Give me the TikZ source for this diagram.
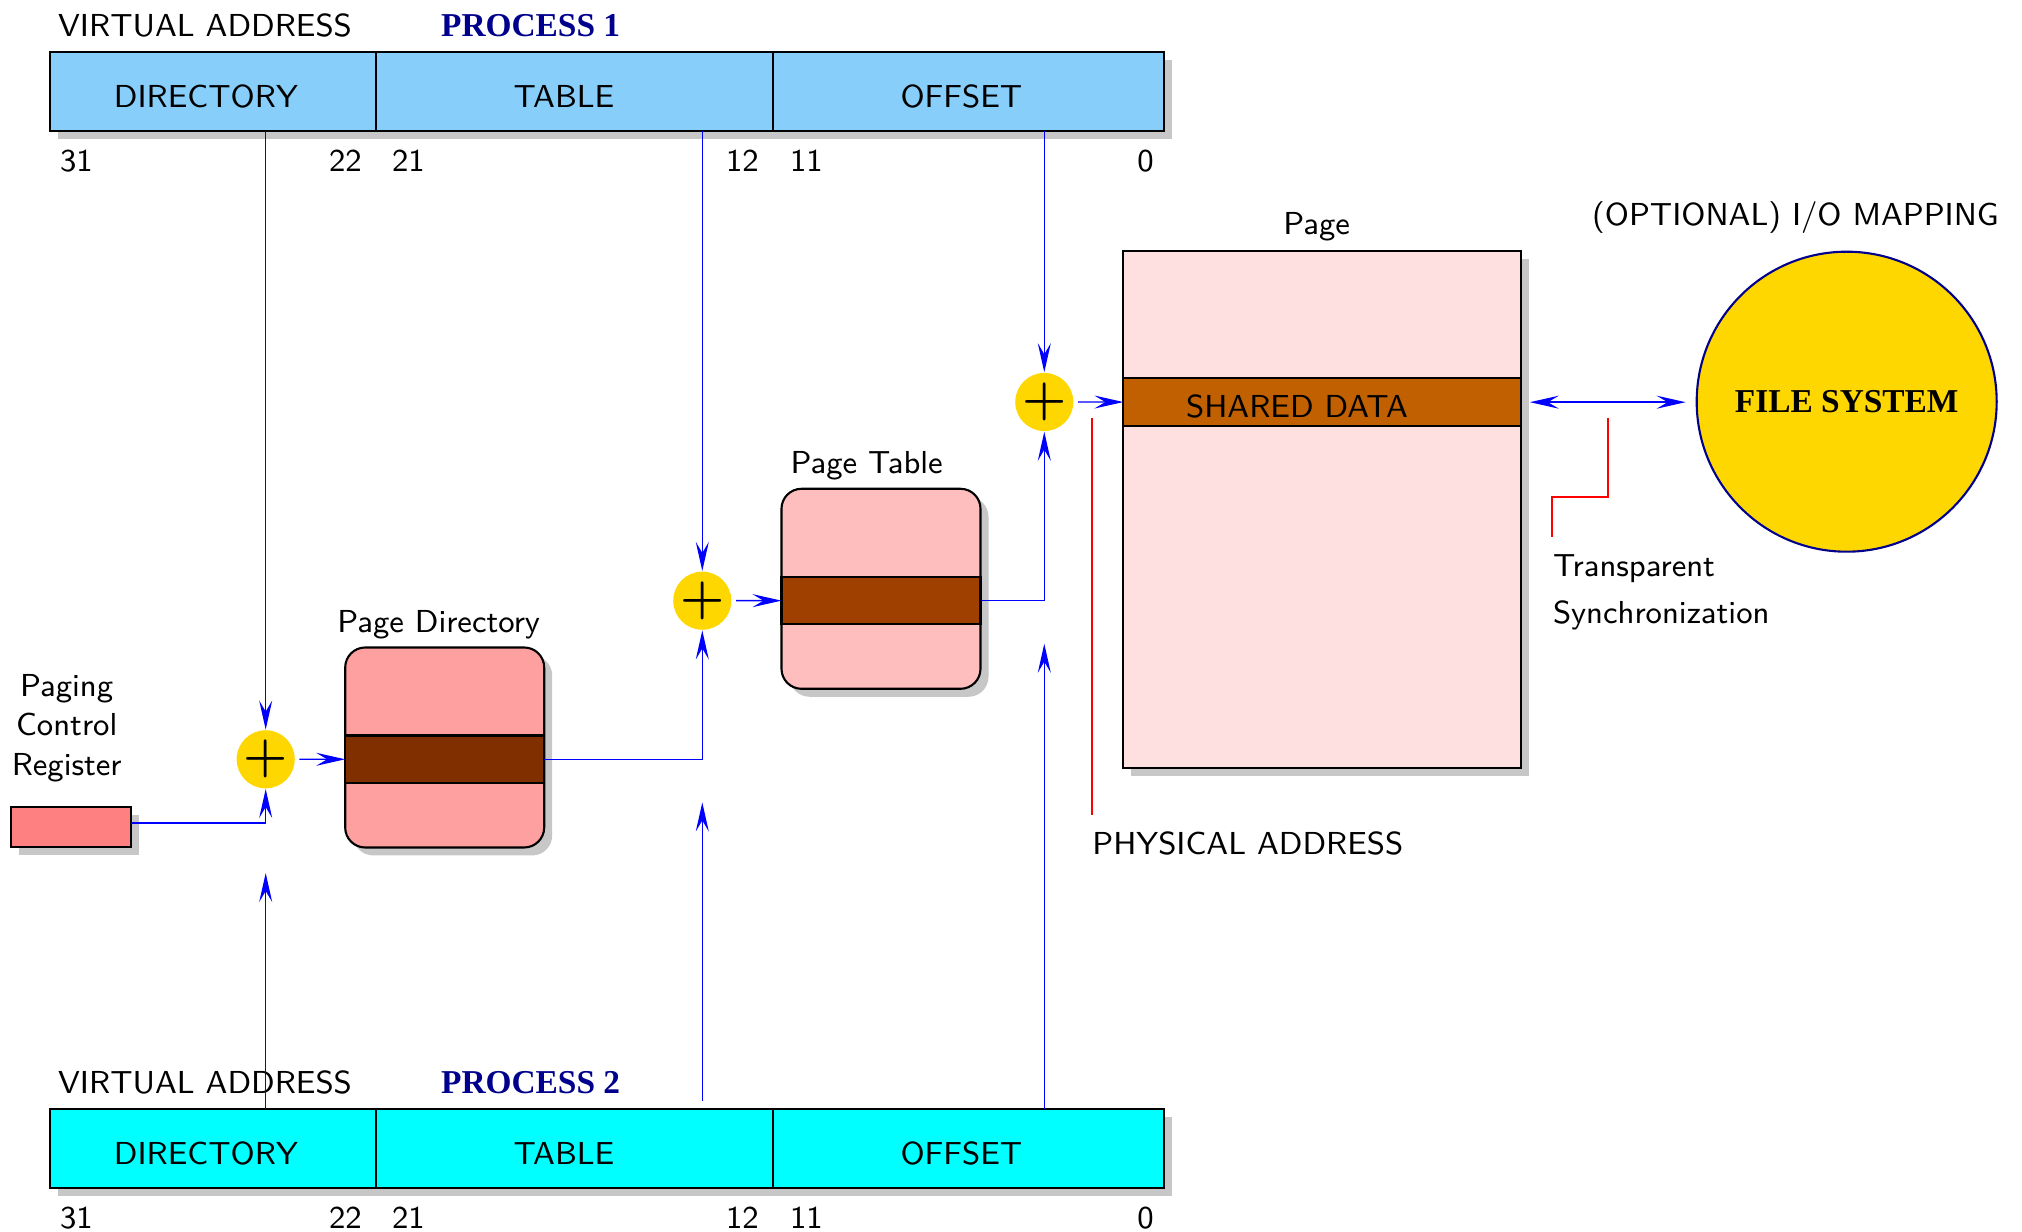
\documentclass[tikz,border=0pt]{standalone}
\usepackage{fontspec}
\newfontfamily\headfont{Liberation Serif}
\usetikzlibrary{arrows.meta,positioning,shadows,calc}

\definecolor{skyfield}{RGB}{135,206,250}
\definecolor{cyanfield}{RGB}{0,255,255}
\definecolor{regfill}{RGB}{255,128,128}
\definecolor{pdfill}{RGB}{255,160,160}
\definecolor{ptfill}{RGB}{255,190,190}
\definecolor{pagefill}{RGB}{255,224,224}
\definecolor{pdband}{RGB}{128,48,0}
\definecolor{ptband}{RGB}{160,64,0}
\definecolor{pageband}{RGB}{192,96,0}
\definecolor{gold}{RGB}{255,215,0}
\definecolor{navy}{RGB}{0,0,140}

\begin{document}
\begin{tikzpicture}[
    font=\sffamily\fontsize{9.05}{11.2}\selectfont,
    shadowed/.style={drop shadow={shadow xshift=0.8mm, shadow yshift=-0.8mm, fill=black!22, opacity=1}},
    field/.style={rectangle, draw, semithick, outer sep=0pt, inner sep=0pt, minimum height=7.9mm, text height=3.2mm, shadowed},
    bit/.style={inner sep=0pt},
    proctitle/.style={anchor=base west, inner sep=0pt, text=navy, font=\headfont\bfseries\fontsize{9.5}{11}\selectfont},
    lookup/.style={rectangle, draw, semithick, rounded corners=2mm, minimum width=1.99cm, minimum height=2cm, outer sep=0pt, shadowed},
    band/.style={rectangle, draw, semithick, minimum height=4.75mm, outer sep=0pt},
    adder/.style={circle, fill=gold, minimum size=5.6mm, inner sep=0pt, font=\Large\boldmath},
    boxlabel/.style={anchor=base, inner sep=0pt},
    flow/.style={-{Stealth[length=2.9mm, width=1.3mm, inset=1.1mm]}, blue, thin},
    leader/.style={red, semithick}
]
\useasboundingbox (0,0) rectangle (20.22,12.32);

% virtual address, process 1
\node[field, fill=skyfield, minimum width=3.26cm, anchor=north west] (dir1) at (0.504,11.80) {DIRECTORY\kern1.5mm};
\node[field, fill=skyfield, minimum width=3.97cm, right=0pt of dir1] (tab1) {TABLE\kern2.2mm};
\node[field, fill=skyfield, minimum width=3.91cm, right=0pt of tab1] (off1) {OFFSET\kern1.5mm};
\node[anchor=base west, inner sep=0pt] (va1) at ([shift={(0.07,0.153)}]dir1.north west) {VIRTUAL ADDRESS};
\node[proctitle] (proc1) at ([shift={(3.9,0.153)}]dir1.north west) {PROCESS 1};
\node[bit, anchor=base west] at ([shift={(0.09,-0.407)}]dir1.south west) {31};
\node[bit, anchor=base east] at ([shift={(-0.14,-0.407)}]dir1.south east) {22};
\node[bit, anchor=base west] at ([shift={(0.15,-0.407)}]tab1.south west) {21};
\node[bit, anchor=base east] at ([shift={(-0.14,-0.407)}]tab1.south east) {12};
\node[bit, anchor=base west] at ([shift={(0.16,-0.407)}]off1.south west) {11};
\node[bit, anchor=base east] at ([shift={(-0.1,-0.407)}]off1.south east) {0};

% virtual address, process 2
\node[field, fill=cyanfield, minimum width=3.26cm, anchor=north west] (dir2) at (0.504,1.23) {DIRECTORY\kern1.5mm};
\node[field, fill=cyanfield, minimum width=3.97cm, right=0pt of dir2] (tab2) {TABLE\kern2.2mm};
\node[field, fill=cyanfield, minimum width=3.91cm, right=0pt of tab2] (off2) {OFFSET\kern1.5mm};
\node[anchor=base west, inner sep=0pt] (va2) at ([shift={(0.07,0.153)}]dir2.north west) {VIRTUAL ADDRESS};
\node[proctitle] (proc2) at ([shift={(3.9,0.153)}]dir2.north west) {PROCESS 2};
\node[bit, anchor=base west] at ([shift={(0.09,-0.407)}]dir2.south west) {31};
\node[bit, anchor=base east] at ([shift={(-0.14,-0.407)}]dir2.south east) {22};
\node[bit, anchor=base west] at ([shift={(0.15,-0.407)}]tab2.south west) {21};
\node[bit, anchor=base east] at ([shift={(-0.14,-0.407)}]tab2.south east) {12};
\node[bit, anchor=base west] at ([shift={(0.16,-0.407)}]off2.south west) {11};
\node[bit, anchor=base east] at ([shift={(-0.1,-0.407)}]off2.south east) {0};

% adders
\node[adder] (add1) at (2.657,4.727) {$+$};
\node[adder] (add2) at (7.023,6.313) {$+$};
\node[adder] (add3) at (10.443,8.300) {$+$};

% paging control register
\node[rectangle, draw, semithick, fill=regfill, minimum width=1.2cm, minimum height=4mm, outer sep=0pt, shadowed] (reg) at (0.71,4.049) {};
\node[align=center] (reglabel) at (0.667,5.04) {Paging\\Control\\Register};

% page directory
\node[lookup, fill=pdfill] (pd) at (4.447,4.845) {};
\node[band, fill=pdband, minimum width=1.99cm] (pdrow) at ([yshift=-1.18mm]pd.center) {};
\node[boxlabel] at ([shift={(-0.06,0.148)}]pd.north) {Page Directory};

% page table
\node[lookup, fill=ptfill] (pt) at (8.81,6.432) {};
\node[band, fill=ptband, minimum width=1.99cm] (ptrow) at ([yshift=-1.18mm]pt.center) {};
\node[boxlabel] at ([shift={(-0.143,0.153)}]pt.north) {Page Table};

% page
\node[rectangle, draw, semithick, fill=pagefill, minimum width=3.98cm, minimum height=5.167cm, outer sep=0pt, shadowed] (page) at (13.224,7.227) {};
\node[band, fill=pageband, minimum width=3.98cm] (pagerow) at ([yshift=10.71mm]page.center) {};
\node[anchor=base] (shared) at ([shift={(-0.254,-0.151)}]pagerow.center) {SHARED DATA};
\node[boxlabel] at ([shift={(-0.057,0.16)}]page.north) {Page};

% file system
\node[circle, draw=navy, semithick, fill=gold, minimum size=3cm, inner sep=0pt,
      font=\headfont\bfseries\fontsize{9.5}{11}\selectfont] (fs) at (18.467,8.303) {FILE SYSTEM};
\node[boxlabel] (iomap) at ([shift={(-0.512,0.25)}]fs.north) {(OPTIONAL) I/O MAPPING};

% address translation, process 1
\draw[flow] (dir1.south -| add1) -- (add1);
\draw[flow] (tab1.south -| add2) -- (add2);
\draw[flow] (off1.south -| add3) -- (add3);
\draw[flow] ([yshift=0.4mm]reg.east) -| (add1);
\draw[flow, shorten <=0.4mm] (add1) -- (pdrow);
\draw[flow] (pdrow) -| (add2);
\draw[flow, shorten <=0.4mm] (add2) -- (ptrow);
\draw[flow] (ptrow) -| (add3);
\draw[flow, shorten <=0.4mm] (add3) -- (pagerow);
\draw[{Stealth[length=2.9mm, width=1.3mm, inset=1.1mm]}-{Stealth[length=2.9mm, width=1.3mm, inset=1.1mm]}, blue, thin,
      shorten <=0.85mm, shorten >=1mm] (pagerow.east) -- (pagerow.east -| fs.west);

% process 2
\coordinate (up1) at ([yshift=-8.4mm]add1.south);
\coordinate (up2) at ([yshift=-17.2mm]add2.south);
\coordinate (up3) at ([yshift=-21.2mm]add3.south);
\draw[flow] (dir2.north -| add1) -- (up1);
\draw[flow] ($(tab2.north -| add2)+(0,0.08)$) -- (up2);
\draw[flow] (off2.north -| add3) -- (up3);

% leaders
\coordinate (physA) at (10.917,8.137);
\coordinate (physB) at (10.917,4.17);
\draw[leader] (physA) -- (physB);
\node[anchor=base west, inner sep=0pt] (phys) at ([yshift=-4mm]physB) {PHYSICAL ADDRESS};

\coordinate (syncA) at (16.083,8.137);
\draw[leader] (syncA) |- ++(-0.56,-0.787) -- ++(0,-0.397) coordinate (syncB);
\node[anchor=north west, inner sep=0pt, align=left, font=\sffamily\fontsize{9.05}{13.4}\selectfont] (sync)
      at ([yshift=-1.75mm]syncB) {Transparent\\Synchronization};
\end{tikzpicture}
\end{document}
